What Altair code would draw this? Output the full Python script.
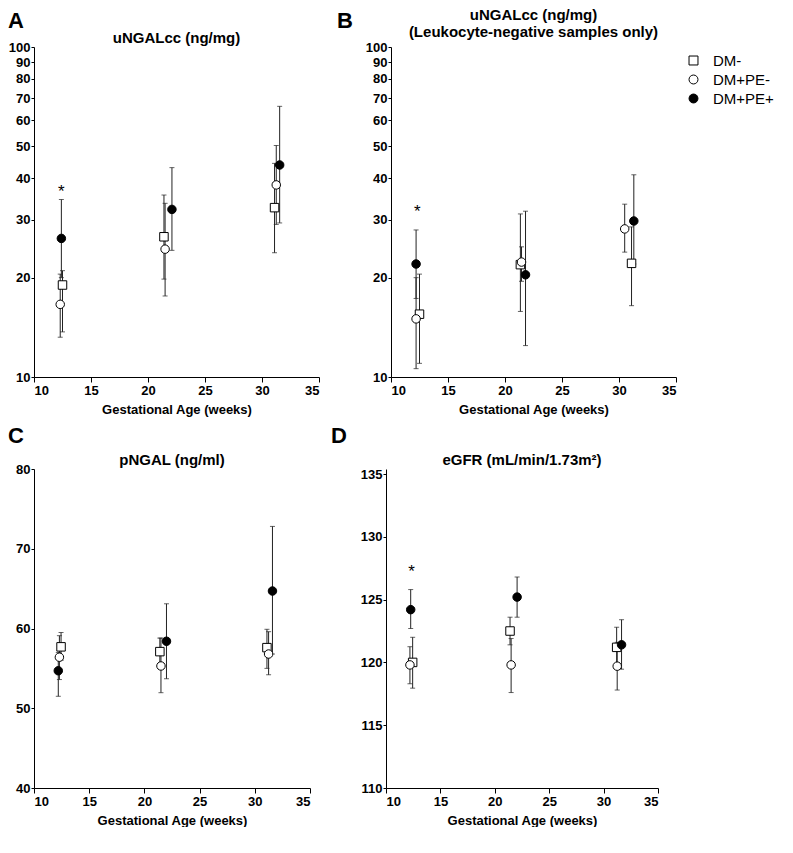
import altair as alt
import pandas as pd

GROUPS = ["DM-", "DM+PE-", "DM+PE+"]

# ---- Panel A: uNGALcc (ng/mg) ----
A_X = [[12.5, 21.4, 31.1], [12.3, 21.5, 31.25], [12.4, 22.1, 31.55]]
A_Y = [[19.0, 26.6, 32.6], [16.6, 24.4, 38.2], [26.3, 32.2, 43.9]]
A_LO = [[13.7, 19.8, 23.8], [13.2, 17.6, 29.0], [20.0, 24.2, 29.3]]
A_HI = [[21.0, 35.6, 44.4], [20.5, 33.6, 50.3], [34.5, 43.1, 66.1]]

# ---- Panel B: uNGALcc (leukocyte-negative only) ----
B_X = [[12.5, 21.35, 31.1], [12.2, 21.45, 30.5], [12.2, 21.8, 31.3]]
B_Y = [[15.5, 21.9, 22.1], [15.0, 22.3, 28.1], [22.0, 20.4, 29.7]]
B_LO = [[11.0, 15.8, 16.45], [10.6, 19.5, 23.9], [17.3, 12.45, 22.0]]
B_HI = [[20.5, 31.2, 28.5], [20.0, 24.8, 33.4], [27.9, 31.8, 41.0]]

# ---- Panel C: pNGAL (ng/ml) ----
C_X = [[12.45, 21.4, 31.1], [12.3, 21.5, 31.25], [12.2, 22.0, 31.6]]
C_Y = [[57.7, 57.1, 57.6], [56.4, 55.3, 56.8], [54.7, 58.4, 64.7]]
C_LO = [[56.0, 55.5, 55.0], [53.6, 51.95, 54.2], [51.5, 53.7, 56.8]]
C_HI = [[59.5, 58.8, 59.9], [59.1, 58.8, 59.6], [57.0, 63.1, 72.8]]

# ---- Panel D: eGFR ----
D_X = [[12.45, 21.4, 31.2], [12.2, 21.5, 31.25], [12.27, 22.05, 31.65]]
D_Y = [[120.0, 122.5, 121.2], [119.8, 119.8, 119.7], [124.2, 125.2, 121.4]]
D_LO = [[117.95, 121.4, 119.6], [118.3, 117.6, 117.8], [122.7, 123.6, 119.46]]
D_HI = [[122.0, 123.6, 122.8], [121.25, 121.9, 121.6], [125.8, 126.8, 123.4]]

# significance markers (x, y)
A_STAR = [12.4, 37.0]
B_STAR = [12.3, 32.4]
D_STAR = [12.35, 127.4]

X_TICKS = [10, 15, 20, 25, 30, 35]
LOG_TICKS = [10, 20, 30, 40, 50, 60, 70, 80, 90, 100]
C_TICKS = [40, 50, 60, 70, 80]
D_TICKS = [110, 115, 120, 125, 130, 135]

FONT = "Liberation Sans"


def make_df(xs, ys, los, his):
    rows = []
    for g, gx, gy, gl, gh in zip(GROUPS, xs, ys, los, his):
        for a, b, c, d in zip(gx, gy, gl, gh):
            rows.append({"group": g, "x": a, "y": b, "lo": c, "hi": d})
    return pd.DataFrame(rows)


def label(text, x, y, size, weight):
    d = pd.DataFrame({"t": [text]})
    return alt.Chart(d).mark_text(fontSize=size, fontWeight=weight, font=FONT, color="black",
                                  baseline="middle", align="center").encode(
        x=alt.value(x), y=alt.value(y), text="t:N")


def panel(df, ydom, ytype, yticks, titles, letter, letter_dx, letter_dy,
          width, height, star=None):
    xenc = alt.X("x:Q", scale=alt.Scale(domain=[10, 35], nice=False, zero=False),
                 axis=alt.Axis(values=X_TICKS, title="Gestational Age (weeks)"))
    yscale = alt.Scale(type=ytype, domain=ydom, nice=False, zero=False)
    yenc = alt.Y("y:Q", scale=yscale, axis=alt.Axis(values=yticks, title=None, format="d"))
    base = alt.Chart(df)
    rule = base.mark_rule(color="#222", strokeWidth=1).encode(
        x=xenc, y=alt.Y("lo:Q", scale=yscale), y2="hi:Q")
    cap_lo = base.mark_tick(orient="horizontal", size=5, thickness=1, color="#222").encode(
        x="x:Q", y=alt.Y("lo:Q", scale=yscale))
    cap_hi = base.mark_tick(orient="horizontal", size=5, thickness=1, color="#222").encode(
        x="x:Q", y=alt.Y("hi:Q", scale=yscale))
    pts = base.mark_point(filled=True, size=72, strokeWidth=1, opacity=1).encode(
        x="x:Q", y=yenc,
        shape=alt.Shape("group:N", scale=alt.Scale(domain=GROUPS, range=["square", "circle", "circle"]),
                        legend=alt.Legend(title=None)),
        fill=alt.Fill("group:N", scale=alt.Scale(domain=GROUPS, range=["white", "white", "black"]),
                      legend=alt.Legend(title=None)),
        stroke=alt.Stroke("group:N", scale=alt.Scale(domain=GROUPS, range=["black", "black", "black"]),
                          legend=alt.Legend(title=None)),
    )
    layers = [rule, cap_lo, cap_hi, pts]
    if star is not None:
        sdf = pd.DataFrame({"x": [star[0]], "y": [star[1]], "t": ["*"]})
        layers.append(alt.Chart(sdf).mark_text(fontSize=17, font=FONT, baseline="middle", dy=3,
                                               color="black").encode(
            x="x:Q", y=alt.Y("y:Q", scale=yscale), text="t:N"))
    for text, dy in titles:
        layers.append(label(text, width / 2, dy, 15, "bold"))
    layers.append(label(letter, letter_dx, letter_dy, 22, "bold"))
    return alt.layer(*layers).properties(width=width, height=height)


pA = panel(make_df(A_X, A_Y, A_LO, A_HI), [10, 100], "log", LOG_TICKS,
           [("uNGALcc (ng/mg)", -9)], "A", -18, -26, 285, 330, A_STAR)
pB = panel(make_df(B_X, B_Y, B_LO, B_HI), [10, 100], "log", LOG_TICKS,
           [("uNGALcc (ng/mg)", -32), ("(Leukocyte-negative samples only)", -15.5)],
           "B", -46, -26, 285, 330, B_STAR)
pC = panel(make_df(C_X, C_Y, C_LO, C_HI), [40, 80], "linear", C_TICKS,
           [("pNGAL (ng/ml)", -9.5)], "C", -18, -33, 276, 319)
pD = panel(make_df(D_X, D_Y, D_LO, D_HI), [110, 135.4], "linear", D_TICKS,
           [("eGFR (mL/min/1.73m²)", -9.5)], "D", -47, -33, 272, 319, D_STAR)

row1 = alt.hconcat(pA, pB, spacing=17)
row2 = alt.hconcat(pC, pD, spacing=20)

chart = alt.vconcat(row1, row2, spacing=9).configure_axis(
    labelFont=FONT, labelFontWeight="bold", labelFontSize=13, labelColor="black",
    titleFont=FONT, titleFontWeight="bold", titleFontSize=13, titleColor="black",
    domainColor="black", tickColor="black", tickSize=5, grid=False, labelPadding=2,
    titlePadding=6,
).configure_axisY(tickSize=3, labelPadding=1).configure_view(stroke=None).configure_legend(
    orient="none", legendX=652, legendY=6, labelFont=FONT, labelFontSize=15,
    labelColor="black", symbolSize=80, symbolStrokeWidth=1,
    rowPadding=3, labelOffset=12, padding=0,
).properties(padding={"left": 0, "top": 0, "right": 0, "bottom": 0})

chart.save("out.html", embed_options={"renderer": "svg", "actions": False})
